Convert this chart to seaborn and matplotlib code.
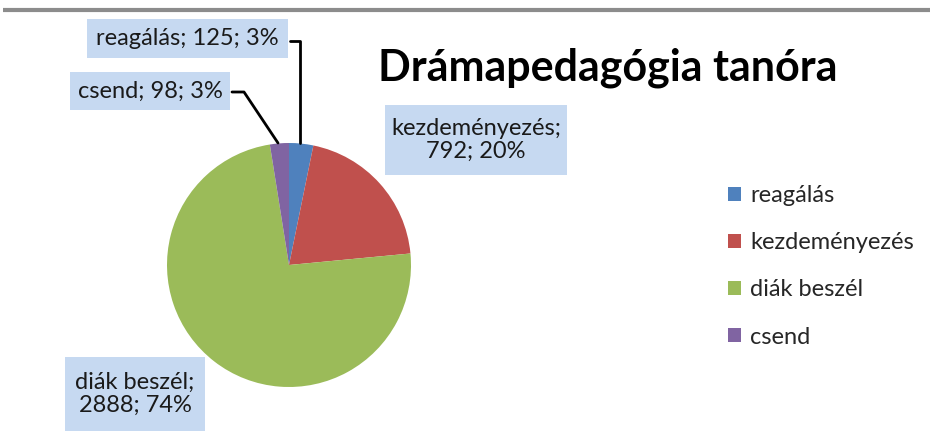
import matplotlib.pyplot as plt
import matplotlib.patches as mpatches
import seaborn as sns

# adatok a diagramról
categories = ['reagálás', 'kezdeményezés', 'diák beszél', 'csend']
counts = [125, 792, 2888, 98]
percents = [3, 20, 74, 3]
colors = ['#4F81BD', '#C0504D', '#9BBB59', '#8064A2']
title = 'Drámapedagógia tanóra'

sns.set_theme(style='white')
plt.rcParams['font.family'] = ['Lato', 'DejaVu Sans']

W, H = 930, 432
fig = plt.figure(figsize=(9.3, 4.32), dpi=100)
ax = fig.add_axes([0, 0, 1, 1])

ax.pie(counts, colors=colors, startangle=90, counterclock=False,
       center=(289, H - 265), radius=122, wedgeprops=dict(linewidth=0))
ax.set_xlim(0, W)
ax.set_ylim(0, H)
ax.set_aspect('equal')
ax.axis('off')

# felső szürke vonal
ax.plot([3, W], [H - 10, H - 10], color='#8c8c8c', lw=3, solid_capstyle='butt')

# címkék dobozban (x0, y0, x1, y1 pixelben), sortörés
boxes = [(87, 19, 288, 58), (385, 105, 567, 175), (65, 357, 205, 431), (70, 72, 230, 110)]
breaks = [False, True, True, False]
for cat, n, p, (x0, y0, x1, y1), br in zip(categories, counts, percents, boxes, breaks):
    sep = ';\n' if br else '; '
    label = f"{cat}{sep}{n}; {p}%"
    ax.add_patch(mpatches.Rectangle((x0, H - y1), x1 - x0, y1 - y0,
                                    facecolor='#C6D9F1', edgecolor='none', zorder=3))
    ax.text((x0 + x1) / 2, H - (y0 + y1) / 2, label, ha='center', va='center',
            fontsize=17, color='#1a1a1a', linespacing=1.1, zorder=4)

# vezető vonalak
ax.plot([290, 300, 300], [H - 41, H - 41, H - 143], color='black', lw=2, zorder=2)
ax.plot([232, 244, 278], [H - 92, H - 92, H - 143], color='black', lw=2, zorder=2)

ax.text(608, H - 68, title, ha='center', va='center', fontsize=31,
        fontweight='bold', color='black')

handles = [mpatches.Patch(facecolor=c, edgecolor='none', label=l) for c, l in zip(colors, categories)]
ax.legend(handles=handles, loc='upper left', bbox_to_anchor=(728 / W, 1 - 185 / H),
          frameon=False, fontsize=17, labelspacing=1.11, handlelength=0.55,
          handleheight=0.55, handletextpad=0.4, borderpad=0, borderaxespad=0)

fig.savefig('out.png', dpi=100)
